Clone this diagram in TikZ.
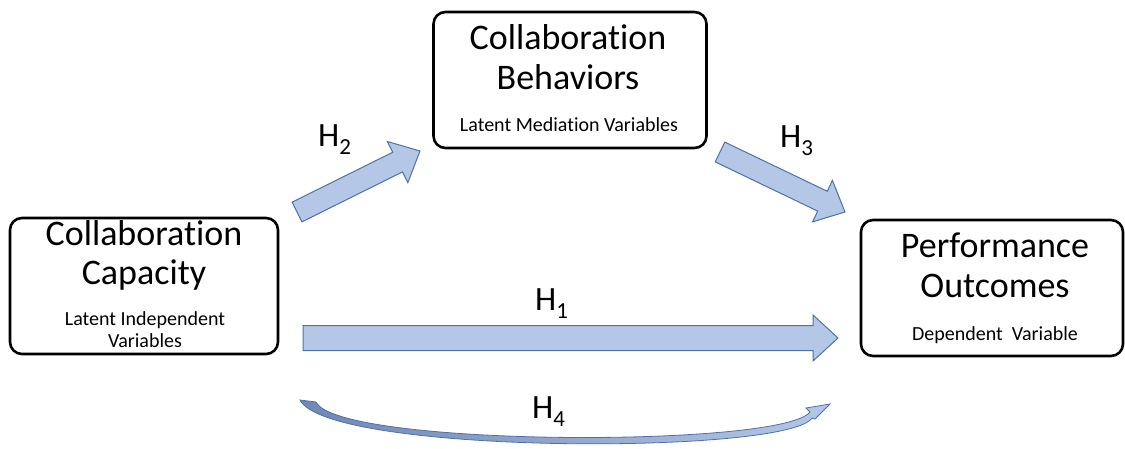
\documentclass[tikz,border=0pt]{standalone}
\usepackage{fontspec}
\setmainfont{Carlito}[Ligatures=NoCommon]
\usetikzlibrary{calc}

\definecolor{arrowfill}{RGB}{180,199,231}
\definecolor{arrowline}{RGB}{80,112,166}
\definecolor{arrowdark}{RGB}{112,136,181}

\tikzset{
  box/.style={draw=black, line width=2.6pt, rounded corners=12pt, fill=white},
  bigtext/.style={font=\fontsize{36}{40}\selectfont, anchor=base, inner sep=0pt},
  smalltext/.style={font=\fontsize{20}{22}\selectfont, anchor=base, inner sep=0pt},
  hyplabel/.style={font=\fontsize{34}{36}\selectfont, anchor=base west, inner sep=0pt},
  blockarr/.style={draw=arrowline, line width=1pt, fill=arrowfill, line join=miter},
}

% H with a lowered subscript
\newcommand\hyp[1]{H\raisebox{-8pt}{\fontsize{23}{23}\selectfont #1}}

% block arrow from #1 to #2: shaft half width #3, head half width #4, head length #5
\newcommand\blockarrow[5]{%
  \draw[blockarr] let \p1=(#1), \p2=(#2),
      \n1={atan2(\y2-\y1,\x2-\x1)}, \n2={veclen(\x2-\x1,\y2-\y1)} in
    ([shift={(\p1)},rotate=\n1]0,#3) -- ([shift={(\p1)},rotate=\n1]\n2-#5,#3)
    -- ([shift={(\p1)},rotate=\n1]\n2-#5,#4) -- ([shift={(\p1)},rotate=\n1]\n2,0)
    -- ([shift={(\p1)},rotate=\n1]\n2-#5,-#4) -- ([shift={(\p1)},rotate=\n1]\n2-#5,-#3)
    -- ([shift={(\p1)},rotate=\n1]0,-#3) -- cycle;}

\begin{document}
\begin{tikzpicture}[x=1pt,y=-1pt]
\useasboundingbox (0,0) rectangle (1125,449);

% boxes
\node[box, minimum width=268pt, minimum height=136pt] (cap) at (144,286) {};
\node[box, minimum width=273pt, minimum height=136pt] (beh) at (570,80) {};
\node[box, minimum width=262pt, minimum height=136pt] (out) at (992,288) {};

% box texts
\node[bigtext] (capa) at (144,246) {Collaboration};
\node[bigtext] (capb) at (144,285) {Capacity};
\node[smalltext] (capc) at (145,325) {Latent Independent};
\node[smalltext] (capd) at (145,347) {Variables};

\node[bigtext] (beha) at (568,50) {Collaboration};
\node[bigtext] (behb) at (568,90) {Behaviors};
\node[smalltext] (behc) at (569,132) {Latent Mediation Variables};

\node[bigtext] (outa) at (995,258) {Performance};
\node[bigtext] (outb) at (995,298) {Outcomes};
\node[smalltext] (outc) at (995,340) {Dependent\ \ Variable};

% arrow ends
\coordinate (h1s) at (303,338);
\coordinate (h1e) at (838,338);
\coordinate (h2s) at (297,212);
\coordinate (h2e) at (420,151);
\coordinate (h3s) at (720,152);
\coordinate (h3e) at (845,212);
\coordinate (h4s) at (300,400);
\coordinate (h4e) at (830,404);

% straight block arrows
\blockarrow{h1s}{h1e}{12.5}{23}{25}
\blockarrow{h2s}{h2e}{11}{23}{25}
\blockarrow{h3s}{h3e}{11}{23}{25}

% curved arrow underneath
\path[draw=arrowline, line width=0.8pt, left color=arrowdark, right color=arrowfill, line join=miter]
  (h4s) .. controls (328,455) and (788,455) .. (812,418)
  -- (815,419) -- (h4e) -- (806,408) -- (810,412)
  .. controls (782,448) and (338,447) .. (316,402) -- cycle;

% hypothesis labels
\node[hyplabel] (l1) at (535,310) {\hyp{1}};
\node[hyplabel] (l2) at (318,147) {\hyp{2}};
\node[hyplabel] (l3) at (780,148) {\hyp{3}};
\node[hyplabel] (l4) at (532,418) {\hyp{4}};
\end{tikzpicture}
\end{document}
